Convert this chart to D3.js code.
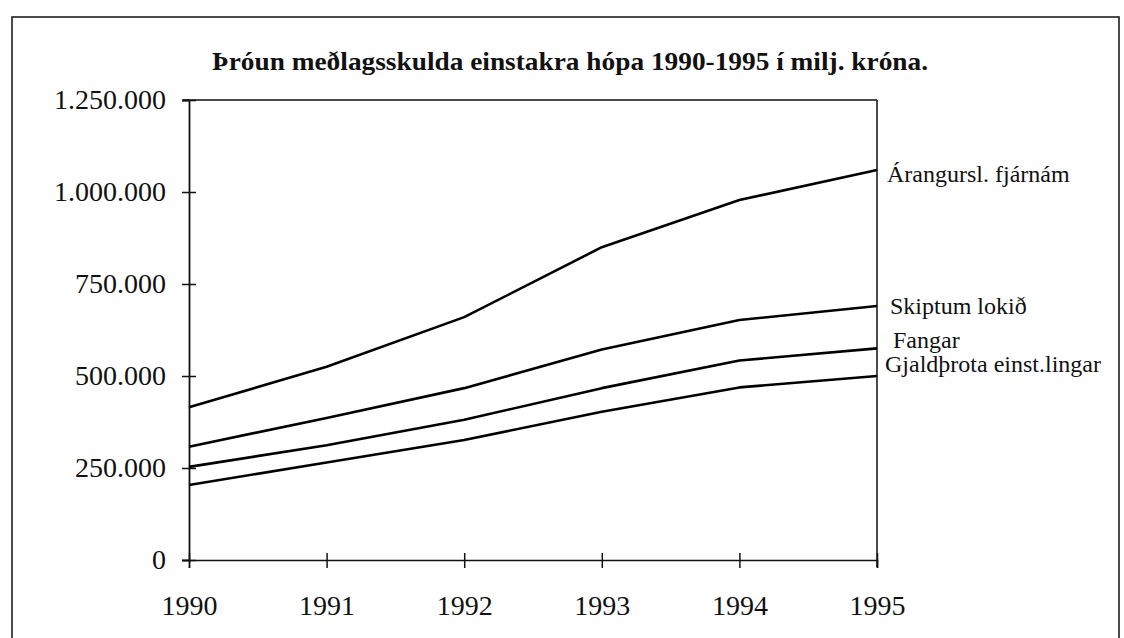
<!DOCTYPE html>
<html>
<head>
<meta charset="utf-8">
<script src="https://cdn.jsdelivr.net/npm/d3@7"></script>
<style>
  html, body { margin: 0; padding: 0; background: #fff; }
  svg { display: block; }
  svg text { font-family: 'Liberation Serif', 'Times New Roman', serif !important; fill: #111; }
</style>
</head>
<body>
<svg id="chart" width="1124" height="638"></svg>
<script>
const title = "Þróun meðlagsskulda einstakra hópa 1990-1995 í milj. króna.";
const years = [1990, 1991, 1992, 1993, 1994, 1995];
const yTicks = [0, 250000, 500000, 750000, 1000000, 1250000];
const seriesNames = ["Árangursl. fjárnám", "Skiptum lokið", "Fangar", "Gjaldþrota einst.lingar"];
const arangursl = [415000, 525000, 660000, 850000, 978000, 1060000];
const skiptum   = [308000, 386000, 467000, 572000, 652000, 690000];
const fangar    = [253000, 312000, 381000, 467000, 542000, 575000];
const gjaldthrota = [204000, 265000, 326000, 403000, 469000, 500000];
const seriesValues = [arangursl, skiptum, fangar, gjaldthrota];

const svg = d3.select("#chart");
const serif = "'Liberation Serif', 'Times New Roman', serif";

// outer frame (scanned page border)
svg.append("rect")
  .attr("x", 12).attr("y", 17).attr("width", 1107).attr("height", 640)
  .attr("fill", "none").attr("stroke", "#111").attr("stroke-width", 1.5);

const x = d3.scaleLinear().domain([1990, 1995]).range([189, 877]);
const y = d3.scaleLinear().domain([0, 1250000]).range([560, 100]);

const loc = d3.formatLocale({decimal: ",", thousands: ".", grouping: [3], currency: ["", ""]});
const fmt = loc.format(",d");

// title
svg.append("text")
  .attr("x", 212).attr("y", 70)
  .attr("font-weight", "bold")
  .attr("font-size", 25)
  .attr("textLength", 716)
  .attr("lengthAdjust", "spacingAndGlyphs")
  .style("font-family", serif)
  .text(title);

// plot frame: top and right
svg.append("line").attr("x1", 183).attr("x2", x(1995)).attr("y1", y(1250000)).attr("y2", y(1250000))
  .attr("stroke", "#111").attr("stroke-width", 1.5);
svg.append("line").attr("x1", x(1995)).attr("x2", x(1995)).attr("y1", y(1250000)).attr("y2", y(0) + 7)
  .attr("stroke", "#111").attr("stroke-width", 1.5);

// y axis
const gy = svg.append("g").attr("transform", `translate(${x(1990)},0)`)
  .call(d3.axisLeft(y).tickValues(yTicks).tickFormat(fmt).tickSize(7).tickPadding(16));
gy.attr("font-family", serif);
gy.select(".domain").attr("stroke", "#111").attr("stroke-width", 1.8);
gy.selectAll(".tick line").attr("x1", 7).attr("stroke", "#111").attr("stroke-width", 1.5);
gy.selectAll(".tick text").attr("font-size", 28).style("font-family", serif);

// x axis
const gx = svg.append("g").attr("transform", `translate(0,${y(0)})`)
  .call(d3.axisBottom(x).tickValues(years).tickFormat(d3.format("d")).tickSize(8).tickPadding(27));
gx.attr("font-family", serif);
gx.select(".domain").attr("stroke", "#111").attr("stroke-width", 1.5);
gx.selectAll(".tick line").attr("y1", -7).attr("stroke", "#111").attr("stroke-width", 1.5);
gx.selectAll(".tick text").attr("font-size", 28).style("font-family", serif);

// lines
const line = d3.line().x((d, i) => x(years[i])).y(d => y(d));
svg.append("g").selectAll("path").data(seriesValues).join("path")
  .attr("d", d => line(d))
  .attr("fill", "none").attr("stroke", "#000").attr("stroke-width", 2.6)
  .attr("stroke-linejoin", "round");

// series labels
const labelDx = [10, 13, 16, 8];
const labelDy = [12, 8, 0, -4];
svg.append("g").selectAll("text").data(seriesNames).join("text")
  .attr("x", (d, i) => x(1995) + labelDx[i])
  .attr("y", (d, i) => y(seriesValues[i][5]) + labelDy[i])
  .attr("font-size", 24)
  .style("font-family", serif)
  .text(d => d);
</script>
</body>
</html>
